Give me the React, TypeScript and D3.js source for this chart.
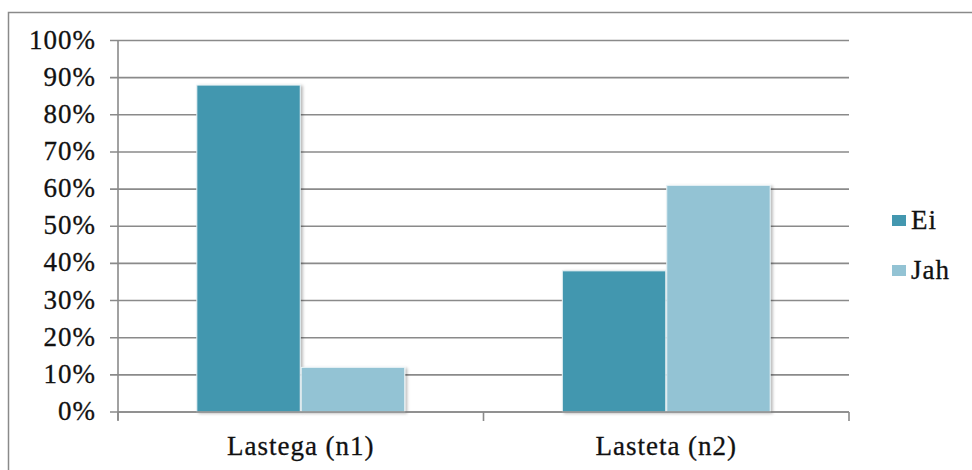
import React from "react";
import * as d3 from "d3";

const categories = ["Lastega (n1)", "Lasteta (n2)"];
const seriesNames = ["Ei", "Jah"];
const eiValues = [88, 38];
const jahValues = [12, 61];
const yTicks = [0, 10, 20, 30, 40, 50, 60, 70, 80, 90, 100];
const seriesColors = ["#4397AF", "#93C3D4"];

const W = 972;
const H = 470;
const plot = { left: 118, right: 849, top: 40.5, bottom: 412 };
const textStyle = {
  fontFamily: "\"Liberation Serif\", \"DejaVu Serif\", serif",
  fontSize: "27px",
  letterSpacing: "1px",
};

export default function App() {
  const values = [eiValues, jahValues];
  const x0 = d3.scaleBand<string>().domain(categories).range([plot.left, plot.right]).padding(0);
  const x1 = d3
    .scaleBand<string>()
    .domain(seriesNames)
    .range([0, x0.bandwidth()])
    .paddingInner(0)
    .paddingOuter(0.75);
  const y = d3.scaleLinear().domain([0, 100]).range([plot.bottom, plot.top]);
  const gridColor = "#8a8a8a";
  const xTickPositions = [plot.left, ...categories.map((c) => (x0(c) as number) + x0.bandwidth())];

  return (
    <div style={{ position: "absolute", left: 0, top: 0 }}>
      <svg width={W} height={H} style={{ display: "block", background: "#fff" }}>
        <defs>
          <filter id="barShadow" x="-10%" y="-10%" width="130%" height="130%">
            <feDropShadow dx="2" dy="1" stdDeviation="1.6" floodColor="#000" floodOpacity="0.28" />
          </filter>
        </defs>
        {/* chart frame */}
        <rect x={8.5} y={12.5} width={W + 20} height={H + 20} fill="#fff" stroke="#8a8a8a" strokeWidth={1.5} />

        {/* horizontal gridlines and y tick labels */}
        {yTicks.map((t) => (
          <g key={t}>
            <line x1={plot.left - 8} x2={plot.right} y1={y(t)} y2={y(t)} stroke={gridColor} strokeWidth={1.6} />
            <text x={96} y={y(t) + 8} textAnchor="end" style={textStyle} fill="#111" stroke="#111" strokeWidth={0.3}>
              {t}%
            </text>
          </g>
        ))}

        {/* y axis line */}
        <line x1={plot.left} x2={plot.left} y1={plot.top} y2={plot.bottom + 8} stroke={gridColor} strokeWidth={1.6} />

        {/* x tick marks between categories */}
        {xTickPositions.map((px, i) => (
          <line key={i} x1={px} x2={px} y1={plot.bottom} y2={plot.bottom + 9} stroke={gridColor} strokeWidth={1.6} />
        ))}

        {/* bars */}
        {categories.map((c, ci) => (
          <g key={c} transform={`translate(${x0(c)},0)`}>
            {seriesNames.map((s, si) => {
              const v = values[si][ci];
              return (
                <rect
                  key={s}
                  x={(x1(s) as number) + 0.5}
                  y={y(v)}
                  width={x1.bandwidth() - 1}
                  height={plot.bottom - y(v)}
                  fill={seriesColors[si]}
                  stroke="#e8f2f5"
                  strokeWidth={1}
                  filter="url(#barShadow)"
                />
              );
            })}
          </g>
        ))}

        {/* x axis line drawn over bar bases */}
        <line x1={plot.left} x2={plot.right} y1={plot.bottom} y2={plot.bottom} stroke={gridColor} strokeWidth={1.6} />

        {/* category labels */}
        {categories.map((c) => (
          <text
            key={c}
            x={(x0(c) as number) + x0.bandwidth() / 2}
            y={455}
            textAnchor="middle"
            style={textStyle}
            fill="#111"
            stroke="#111"
            strokeWidth={0.3}
          >
            {c}
          </text>
        ))}

        {/* legend */}
        {seriesNames.map((s, i) => (
          <g key={s} transform={`translate(892,${215 + i * 50})`}>
            <rect x={0} y={0} width={14} height={11} fill={seriesColors[i]} />
            <text x={19} y={14} style={textStyle} fill="#111" stroke="#111" strokeWidth={0.3}>
              {s}
            </text>
          </g>
        ))}
      </svg>
    </div>
  );
}
